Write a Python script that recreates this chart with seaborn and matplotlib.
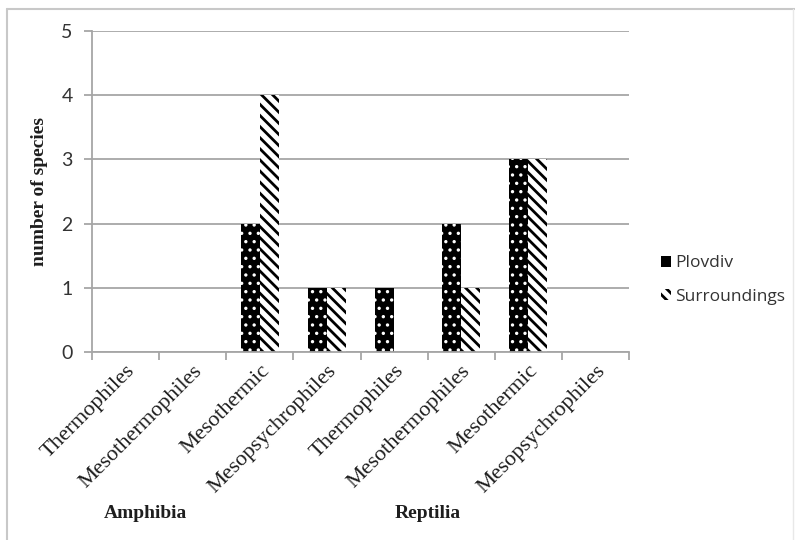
import matplotlib
matplotlib.use("Agg")
import matplotlib.pyplot as plt
import seaborn as sns
import pandas as pd
from matplotlib.patches import Patch
from matplotlib.lines import Line2D

# Species counts per thermal preference group
classes = ["Amphibia"] * 4 + ["Reptilia"] * 4
groups = ["Thermophiles", "Mesothermophiles", "Mesothermic", "Mesopsychrophiles"] * 2
plovdiv = [0, 0, 2, 1, 1, 2, 3, 0]
surroundings = [0, 0, 4, 1, 0, 1, 3, 0]
series = ["Plovdiv", "Surroundings"]
y_ticks = [0, 1, 2, 3, 4, 5]

sns.set_theme(style="white")
plt.rcParams["hatch.linewidth"] = 2.0

DOTS = ".."
STRIPES = "\\\\\\"

positions = list(range(len(groups)))
df = pd.DataFrame({
    "pos": positions * 2,
    "count": plovdiv + surroundings,
    "series": [series[0]] * len(groups) + [series[1]] * len(groups),
})

fig = plt.figure(figsize=(7.95, 5.4), dpi=100)
ax = fig.add_axes([92 / 795, 1 - 352 / 540, (629 - 92) / 795, (352 - 31) / 540])

sns.barplot(data=df, x="pos", y="count", hue="series", hue_order=series,
            order=positions, palette=["black", "white"], width=0.57,
            dodge=True, legend=False, ax=ax, saturation=1)


def style_dots(p, hatch=DOTS):
    p.set_facecolor("black")
    p.set_edgecolor("white")
    p.set_hatch(hatch)
    p.set_linewidth(0)
    if hasattr(p, "set_hatch_linewidth"):
        p.set_hatch_linewidth(1.2)


def style_stripes(p):
    p.set_facecolor("white")
    p.set_edgecolor("black")
    p.set_hatch(STRIPES)
    p.set_linewidth(0)
    if hasattr(p, "set_hatch_linewidth"):
        p.set_hatch_linewidth(2.0)


n = len(groups)
for i, bar in enumerate(ax.patches[:2 * n]):
    if i < n:
        style_dots(bar)
    else:
        style_stripes(bar)

grid_color = "#a6a6a6"
ax.set_ylim(0, 5)
ax.set_xlim(-0.5, n - 0.5)
ax.set_yticks(y_ticks)
ax.yaxis.grid(True, color=grid_color, linewidth=1.3)
ax.set_axisbelow(True)
for s in ["top", "right"]:
    ax.spines[s].set_visible(False)
for s in ["left", "bottom"]:
    ax.spines[s].set_color(grid_color)
    ax.spines[s].set_linewidth(1.3)

ax.set_xticks(positions)
ax.set_xticklabels(groups, rotation=45, ha="right", rotation_mode="anchor",
                   family="Liberation Serif", fontsize=16, color="#1e1e1e")
ax.set_xticks([p - 0.5 for p in positions] + [n - 0.5], minor=True)
ax.tick_params(axis="x", which="major", length=0, pad=7)
ax.tick_params(axis="x", which="minor", length=6, width=1.3, color=grid_color,
               direction="out", bottom=True)
ax.tick_params(axis="y", length=6, width=1.3, color=grid_color, direction="out",
               left=True, pad=8)
for t in ax.get_yticklabels():
    t.set_family("Lato")
    t.set_fontsize(14)
    t.set_color("#333333")

ax.set_xlabel("")
ax.set_ylabel("number of species", family="Liberation Serif", fontweight="bold",
              fontsize=14, color="#1e1e1e")
ax.yaxis.set_label_coords(-0.082, 0.50)

fig.text(104 / 795, 1 - 513 / 540, "Amphibia", family="Liberation Serif",
         fontweight="bold", fontsize=14, color="#1e1e1e", va="center", ha="left")
fig.text(395 / 795, 1 - 513 / 540, "Reptilia", family="Liberation Serif",
         fontweight="bold", fontsize=14, color="#1e1e1e", va="center", ha="left")

h_dots = Patch(label=series[0])
style_dots(h_dots, hatch=None)
h_stripes = Patch(label=series[1])
style_stripes(h_stripes)
fig.legend([h_dots, h_stripes], series, loc="center left",
           bbox_to_anchor=(645 / 795, 1 - 280 / 540),
           frameon=False, handlelength=0.6, handleheight=0.6, handletextpad=0.25,
           labelspacing=1.0, prop={"family": "Open Sans", "size": 12.5},
           labelcolor="#333333")

# outer chart frame
frame_color = "#c8c8c8"
fig.add_artist(Line2D([7 / 795, 1.0], [1 - 9 / 540] * 2, color=frame_color, lw=1.5))
fig.add_artist(Line2D([7 / 795] * 2, [0, 1 - 9 / 540], color=frame_color, lw=1.5))
fig.add_artist(Line2D([793 / 795] * 2, [0, 1 - 9 / 540], color="#e8e8e8", lw=1.0))

fig.savefig("out.png", dpi=100)
